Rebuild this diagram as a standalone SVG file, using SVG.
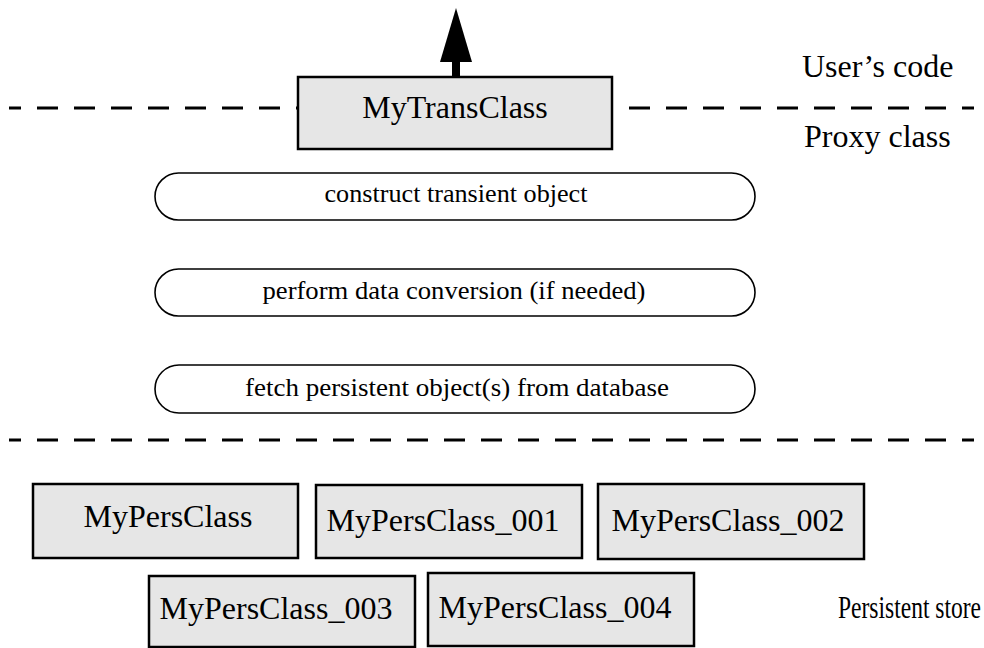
<svg xmlns="http://www.w3.org/2000/svg" width="984" height="648" viewBox="0 0 984 648">
  <style>
    text { font-family: "Liberation Serif", "Times New Roman", serif; fill: #000; }
    .big { font-size: 32px; }
    .small { font-size: 26px; }
    .mid { text-anchor: middle; }
    .box { fill: #e6e6e6; stroke: #000; stroke-width: 2.5; }
    .pill { fill: #fff; stroke: #000; stroke-width: 1.6; }
    .layer { stroke: #000; stroke-width: 3; stroke-dasharray: 21 16; stroke-dashoffset: 9; fill: none; }
  </style>

  <rect width="984" height="648" fill="#fff"/>

  <!-- layer boundaries -->
  <line class="layer" x1="9" y1="108" x2="974" y2="108"/>
  <line class="layer" x1="9" y1="440" x2="974" y2="440"/>

  <!-- layer captions -->
  <text class="big" x="802" y="77">User’s code</text>
  <text class="big" x="804" y="147">Proxy class</text>
  <text x="838" y="618" font-size="31" textLength="143" lengthAdjust="spacingAndGlyphs">Persistent store</text>

  <g id="connectors">
    <line x1="456" y1="78" x2="456" y2="61" stroke="#000" stroke-width="8"/>
    <path d="M456 8 L472 62 L440 62 Z" fill="#000"/>
  </g>

  <g id="myTransClass">
    <rect class="box" x="298" y="77" width="314" height="72"/>
    <text class="big mid" x="455" y="118">MyTransClass</text>
  </g>

  <g id="constructStep">
    <rect class="pill" x="155" y="173" width="600" height="47" rx="23.5" ry="23.5"/>
    <text class="small mid" x="456" y="202" textLength="263" lengthAdjust="spacingAndGlyphs">construct transient object</text>
  </g>
  <g id="convertStep">
    <rect class="pill" x="155" y="269" width="600" height="47" rx="23.5" ry="23.5"/>
    <text class="small mid" x="454" y="299" textLength="383" lengthAdjust="spacingAndGlyphs">perform data conversion (if needed)</text>
  </g>
  <g id="fetchStep">
    <rect class="pill" x="155" y="365" width="600" height="48" rx="24" ry="24"/>
    <text class="small mid" x="457" y="396" textLength="424" lengthAdjust="spacingAndGlyphs">fetch persistent object(s) from database</text>
  </g>

  <g id="myPersClass">
    <rect class="box" x="33" y="484" width="265" height="74"/>
    <text class="big mid" x="168" y="527">MyPersClass</text>
  </g>
  <g id="myPersClass001">
    <rect class="box" x="316" y="485" width="266" height="73"/>
    <text class="big mid" x="443" y="531">MyPersClass_001</text>
  </g>
  <g id="myPersClass002">
    <rect class="box" x="598" y="484" width="266" height="75"/>
    <text class="big mid" x="728" y="531">MyPersClass_002</text>
  </g>
  <g id="myPersClass003">
    <rect class="box" x="149" y="576" width="266" height="71"/>
    <text class="big mid" x="276" y="619">MyPersClass_003</text>
  </g>
  <g id="myPersClass004">
    <rect class="box" x="428" y="573" width="266" height="73"/>
    <text class="big mid" x="555" y="618">MyPersClass_004</text>
  </g>
</svg>
